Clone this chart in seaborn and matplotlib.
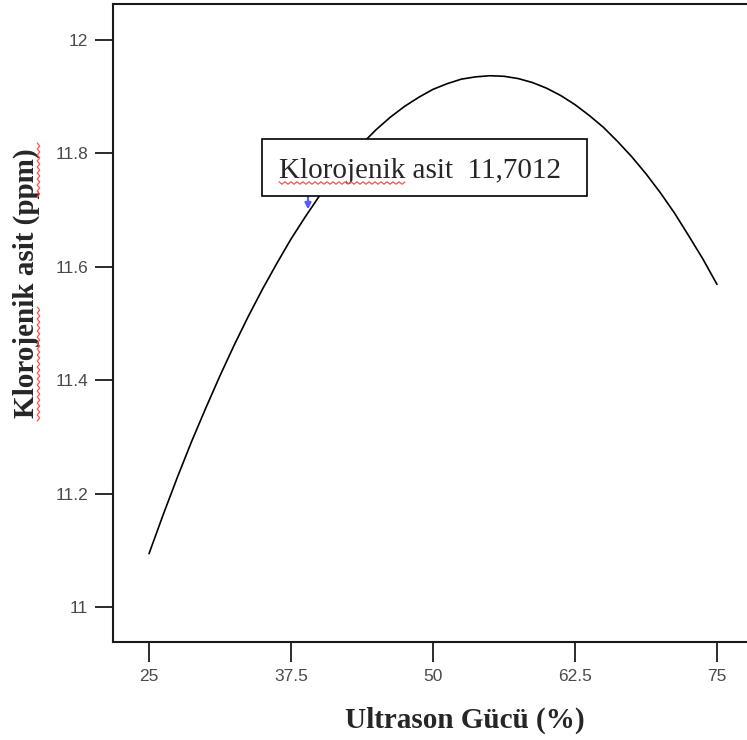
import matplotlib
matplotlib.use("Agg")
import matplotlib.pyplot as plt
import seaborn as sns
import numpy as np
import pandas as pd
from matplotlib.patches import Rectangle
from matplotlib.lines import Line2D

# ---- data ----
ultrason_gucu = [25, 26.25, 27.5, 28.75, 30, 31.25, 32.5, 33.75, 35, 36.25,
                 37.5, 38.75, 40, 41.25, 42.5, 43.75, 45, 46.25, 47.5, 48.75,
                 50, 51.25, 52.5, 53.75, 55, 56.25, 57.5, 58.75, 60, 61.25,
                 62.5, 63.75, 65, 66.25, 67.5, 68.75, 70, 71.25, 72.5, 73.75, 75]
klorojenik = [11.094, 11.163, 11.229, 11.292, 11.351, 11.408, 11.462, 11.513,
              11.561, 11.606, 11.649, 11.688, 11.725, 11.758, 11.789, 11.817,
              11.842, 11.864, 11.883, 11.899, 11.913, 11.923, 11.931, 11.935,
              11.937, 11.936, 11.932, 11.925, 11.915, 11.902, 11.886, 11.867,
              11.846, 11.821, 11.794, 11.764, 11.731, 11.695, 11.655, 11.614,
              11.569]
x_ticks = [25, 37.5, 50, 62.5, 75]
x_tick_labels = ["25", "37.5", "50", "62.5", "75"]
y_ticks = [11, 11.2, 11.4, 11.6, 11.8, 12]
y_tick_labels = ["11", "11.2", "11.4", "11.6", "11.8", "12"]
ann_x, ann_y = 39, 11.7012
ann_label = "Klorojenik asit  11,7012"
x_label = "Ultrason Gücü (%)"
y_label = "Klorojenik asit (ppm)"

df = pd.DataFrame({"x": ultrason_gucu, "y": klorojenik})

sns.set_style("ticks")
plt.rcParams["font.family"] = ["Liberation Sans", "DejaVu Sans"]

W, H = 747, 740
fig = plt.figure(figsize=(W / 100, H / 100), dpi=100)
fx = lambda p: p / W
fy = lambda p: 1 - p / H

ax = fig.add_axes([fx(113), fy(642), (752 - 113) / W, (642 - 4) / H])
sns.lineplot(data=df, x="x", y="y", ax=ax, color="black", lw=1.2)
ax.set_xlim(21.83, 78.08)
ax.set_ylim(10.9383, 12.0635)
ax.set_xlabel("")
ax.set_ylabel("")

ax.set_xticks(x_ticks)
ax.set_xticklabels(x_tick_labels)
ax.set_yticks(y_ticks)
ax.set_yticklabels(y_tick_labels)
for s in ax.spines.values():
    s.set_linewidth(1.5)
    s.set_color("#1a1a1a")
ax.tick_params(axis="x", direction="out", length=14.4, width=1.3, pad=5,
               labelsize=12.5, labelcolor="#4a4a4a", color="#1a1a1a")
ax.tick_params(axis="y", direction="out", length=13, width=1.3, pad=5,
               labelsize=12.5, labelcolor="#4a4a4a", color="#1a1a1a")

# axis titles
fig.text(fx(465), fy(728), x_label, ha="center", va="baseline",
         fontsize=21, fontweight="bold", family="Liberation Serif")
fig.text(fx(26), fy(283), y_label, ha="center", va="center", rotation=90,
         fontsize=21, fontweight="bold", family="Liberation Serif")

# annotation box
fig.add_artist(Rectangle((fx(262), fy(196)), 325 / W, 57 / H,
                         transform=fig.transFigure, facecolor="white",
                         edgecolor="black", lw=1.2, zorder=5))
fig.text(fx(279), fy(178), ann_label, ha="left", va="baseline", fontsize=21,
         family="Liberation Serif", zorder=6)
ax.annotate("", xy=(ann_x, ann_y), xycoords="data",
            xytext=(308, H - 197), textcoords="figure pixels",
            arrowprops=dict(arrowstyle="-|>", color="#5a5aff", lw=1.6,
                            mutation_scale=9, shrinkA=0, shrinkB=0),
            zorder=7)

# spell-check wavy underlines
def wavy_h(x0, x1, y, step=3, amp=1.2):
    xs = np.arange(x0, x1, step)
    ys = y + amp * np.where(np.arange(len(xs)) % 2 == 0, -1, 1)
    fig.add_artist(Line2D(fx(xs), fy(ys), transform=fig.transFigure,
                          color="#ff5050", lw=0.9, zorder=8))

def wavy_v(y0, y1, x, step=3, amp=1.2):
    ys = np.arange(y0, y1, step)
    xs = x + amp * np.where(np.arange(len(ys)) % 2 == 0, -1, 1)
    fig.add_artist(Line2D(fx(xs), fy(ys), transform=fig.transFigure,
                          color="#ff5050", lw=0.9, zorder=8))

wavy_h(279, 407, 183)
wavy_v(143, 200, 38.5)
wavy_v(307, 423, 38.5)

fig.savefig("out.png", dpi=100)
